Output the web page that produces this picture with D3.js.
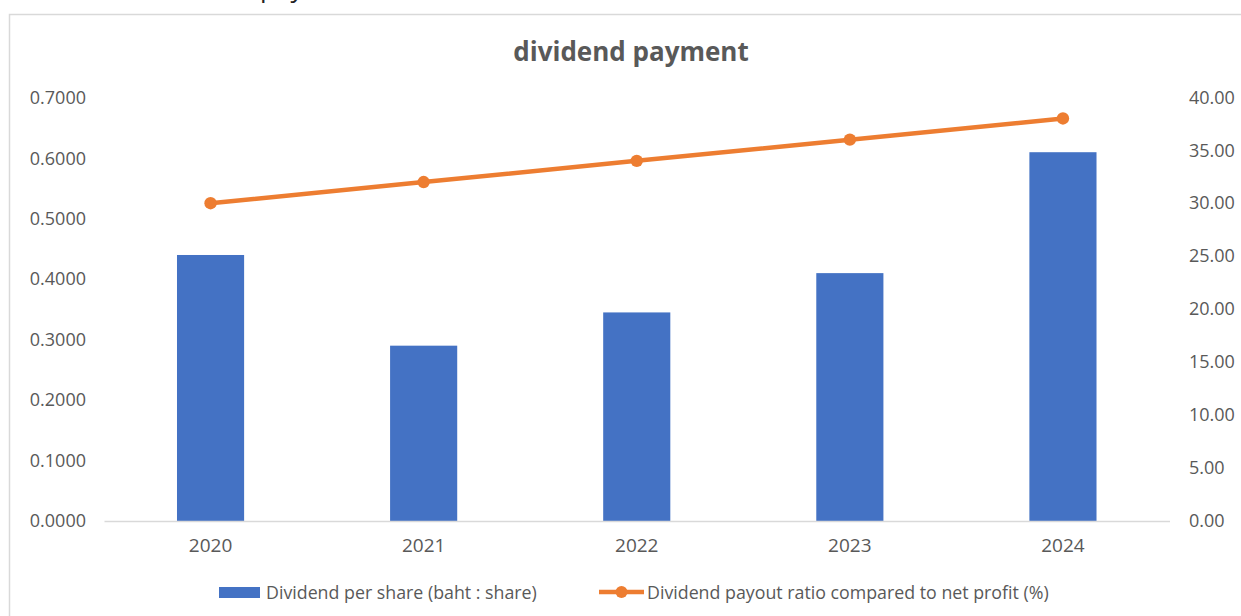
<!DOCTYPE html>
<html>
<head>
<meta charset="utf-8">
<script src="https://cdn.jsdelivr.net/npm/d3@7"></script>
<style>
  html, body { margin: 0; padding: 0; background: #fff; }
  svg { display: block; }
  text { font-family: "Open Sans", "Noto Sans", sans-serif; fill: #595959; }
</style>
</head>
<body>
<svg id="chart" width="1241" height="616"></svg>
<script>
// Data
const years = ["2020", "2021", "2022", "2023", "2024"];
const dividendPerShare = [0.44, 0.29, 0.345, 0.41, 0.61];
const payoutRatio = [30, 32, 34, 36, 38];
const leftTicks = [0, 0.1, 0.2, 0.3, 0.4, 0.5, 0.6, 0.7];
const rightTicks = [0, 5, 10, 15, 20, 25, 30, 35, 40];
const seriesNames = ["Dividend per share (baht : share)", "Dividend payout ratio compared to net profit (%)"];

const svg = d3.select("#chart");
const blue = "#4472C4", orange = "#ED7D31";

// Page heading above the chart box (mostly off the top edge)
svg.append("text")
  .attr("x", 146).attr("y", -3)
  .style("font-size", "26px").style("fill", "#222")
  .text("Dividend payment");

// Chart frame
svg.append("rect")
  .attr("x", 9.5).attr("y", 14.5)
  .attr("width", 1400).attr("height", 800)
  .attr("fill", "#fff").attr("stroke", "#d9d9d9").attr("stroke-width", 1.5);

// Title
svg.append("text")
  .attr("x", 631).attr("y", 61)
  .attr("text-anchor", "middle")
  .style("font-size", "26px").style("font-weight", "bold")
  .text("dividend payment");

// Scales
const x = d3.scaleBand().domain(years).range([104, 1169.5])
  .paddingInner(0.685).paddingOuter(0.3425);
const yL = d3.scaleLinear().domain([0, 0.7]).range([521, 97.8]);
const yR = d3.scaleLinear().domain([0, 40]).range([521, 97.3]);

// Left axis labels
const leftAxis = d3.axisLeft(yL).tickValues(leftTicks).tickFormat(d3.format(".4f")).tickSize(0).tickPadding(0);
const gl = svg.append("g").attr("transform", "translate(86,0)").call(leftAxis);
gl.select(".domain").remove();
gl.selectAll("text").style("font-size", "18px").attr("fill", "#595959").attr("font-family", null);

// Right axis labels
const rightAxis = d3.axisRight(yR).tickValues(rightTicks).tickFormat(d3.format(".2f")).tickSize(0).tickPadding(0);
const gr = svg.append("g").attr("transform", "translate(1189,0)").call(rightAxis);
gr.select(".domain").remove();
gr.selectAll("text").style("font-size", "18px").attr("fill", "#595959").attr("font-family", null);

// Bars
svg.append("g").selectAll("rect")
  .data(years)
  .join("rect")
  .attr("x", d => x(d))
  .attr("width", x.bandwidth())
  .attr("y", (d, i) => yL(dividendPerShare[i]))
  .attr("height", (d, i) => yL(0) - yL(dividendPerShare[i]))
  .attr("fill", blue);

// Category axis
const bottomAxis = d3.axisBottom(x).tickSize(0).tickPadding(18);
const gb = svg.append("g").attr("transform", `translate(0,${yL(0)})`).call(bottomAxis);
gb.select(".domain").attr("stroke", "#d9d9d9").attr("stroke-width", 1.5);
gb.selectAll("text").style("font-size", "19px").attr("fill", "#595959").attr("font-family", null);

// Payout ratio line
const cx = d => x(d) + x.bandwidth() / 2;
const line = d3.line().x((d, i) => cx(years[i])).y(d => yR(d));
svg.append("path")
  .datum(payoutRatio)
  .attr("d", line)
  .attr("fill", "none")
  .attr("stroke", orange)
  .attr("stroke-width", 4.5)
  .attr("stroke-linecap", "round");
svg.append("g").selectAll("circle")
  .data(payoutRatio)
  .join("circle")
  .attr("cx", (d, i) => cx(years[i]))
  .attr("cy", d => yR(d))
  .attr("r", 6.2)
  .attr("fill", orange);

// Legend
const lg = svg.append("g");
lg.append("rect").attr("x", 219).attr("y", 587).attr("width", 41).attr("height", 11).attr("fill", blue);
lg.append("text").attr("x", 266).attr("y", 598.5).style("font-size", "17.8px").text(seriesNames[0]);
lg.append("line").attr("x1", 599).attr("x2", 644).attr("y1", 592).attr("y2", 592)
  .attr("stroke", orange).attr("stroke-width", 4.5);
lg.append("circle").attr("cx", 621.5).attr("cy", 592).attr("r", 6).attr("fill", orange);
lg.append("text").attr("x", 647).attr("y", 598.5).style("font-size", "17.8px").text(seriesNames[1]);
</script>
</body>
</html>
